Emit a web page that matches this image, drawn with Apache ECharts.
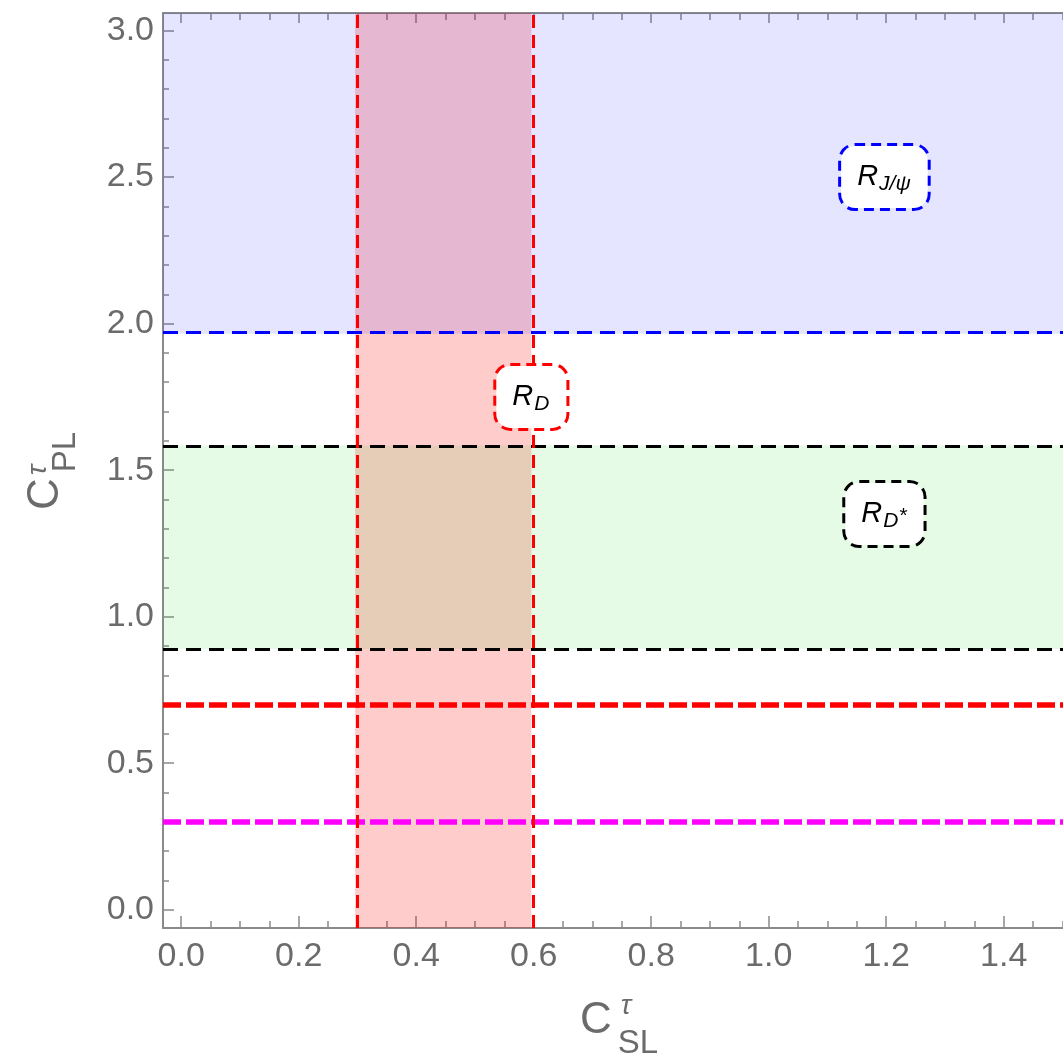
<!DOCTYPE html>
<html>
<head>
<meta charset="utf-8">
<script src="https://cdn.jsdelivr.net/npm/echarts@6/dist/echarts.min.js"></script>
<style>
  html, body { margin: 0; padding: 0; background: #ffffff; }
  #chart { width: 1063px; height: 1058px; }
</style>
</head>
<body>
<div id="chart"></div>
<script>
// Plot window in (C_SL, C_PL)
const xRange = [-0.031, 1.501];
const yRange = [-0.0625, 3.06];

// Tick positions and labels
const xMajorTicks = [0.0, 0.2, 0.4, 0.6, 0.8, 1.0, 1.2, 1.4];
const xMinorTicks = [0.05, 0.1, 0.15, 0.25, 0.3, 0.35, 0.45, 0.5, 0.55, 0.65, 0.7, 0.75,
                     0.85, 0.9, 0.95, 1.05, 1.1, 1.15, 1.25, 1.3, 1.35, 1.45, 1.5];
const yMajorTicks = [0.0, 0.5, 1.0, 1.5, 2.0, 2.5, 3.0];
const yMinorTicks = [0.1, 0.2, 0.3, 0.4, 0.6, 0.7, 0.8, 0.9, 1.1, 1.2, 1.3, 1.4,
                     1.6, 1.7, 1.8, 1.9, 2.1, 2.2, 2.3, 2.4, 2.6, 2.7, 2.8, 2.9];

// Allowed regions
const rdBand = [0.296, 0.596];        // R_D: band in C_SL
const rdStarBand = [0.89, 1.584];     // R_D*: band in C_PL
const rJpsiLower = 1.965;             // R_J/psi: C_PL above this value
const redLineLevel = 0.70;            // thick red dashed bound
const magentaLineLevel = 0.30;        // thick magenta dashed bound

// Region tags
const tagNames = ['R_J/psi', 'R_D', 'R_D*'];
const tagX = [1.197, 0.596, 1.197];
const tagY = [2.50, 1.75, 1.35];
const tagText = ['{r|R}{s|J/ψ}', '{r|R}{s|D}', '{r|R}{s|D}{st|*}'];
const tagColor = ['#0000ff', '#ff0000', '#000000'];

const FONT = 'Liberation Sans, Arial, Helvetica, sans-serif';
const AXIS_GRAY = '#8a8a8a';
const LABEL_GRAY = '#6b6b6b';

function tickAxis(position, values, len, withLine, withLabels) {
  const vertical = position === 'left' || position === 'right';
  return {
    type: 'value',
    position: position,
    min: vertical ? yRange[0] : xRange[0],
    max: vertical ? yRange[1] : xRange[1],
    axisLine: { show: withLine, onZero: false, lineStyle: { color: AXIS_GRAY, width: 2 } },
    axisTick: { show: true, inside: true, length: len, customValues: values,
                lineStyle: { color: AXIS_GRAY, width: 1.5 } },
    axisLabel: withLabels ? {
      show: true, customValues: values, fontSize: 34, fontFamily: FONT, color: LABEL_GRAY,
      margin: vertical ? 9 : 12,
      formatter: v => Number(v).toFixed(1)
    } : { show: false },
    splitLine: { show: false },
    minorTick: { show: false },
    silent: true
  };
}

const chart = echarts.init(document.getElementById('chart'), null, { renderer: 'canvas' });

const option = {
  animation: false,
  backgroundColor: '#ffffff',
  grid: { left: 163, top: 13, right: 0, bottom: 130, outerBoundsMode: 'none', containLabel: false },
  xAxis: [
    tickAxis('bottom', xMajorTicks, 12, true, true),
    tickAxis('bottom', xMinorTicks, 7, false, false),
    tickAxis('top', xMajorTicks, 10, true, false),
    tickAxis('top', xMinorTicks, 7, false, false)
  ],
  yAxis: [
    tickAxis('left', yMajorTicks, 11, true, true),
    tickAxis('left', yMinorTicks, 6, false, false)
  ],
  series: [
    {
      // R_D band (vertical)
      type: 'line', xAxisIndex: 0, yAxisIndex: 0, data: [], silent: true, z: 1,
      markArea: {
        silent: true,
        itemStyle: { color: 'rgba(255,0,0,0.2)' },
        data: [[{ xAxis: rdBand[0], yAxis: yRange[0] }, { xAxis: rdBand[1], yAxis: yRange[1] }]]
      }
    },
    {
      // R_J/psi and R_D* bands (horizontal)
      type: 'line', xAxisIndex: 0, yAxisIndex: 0, data: [], silent: true, z: 2,
      markArea: {
        silent: true,
        data: [
          [{ xAxis: xRange[0], yAxis: rJpsiLower, itemStyle: { color: 'rgba(0,0,255,0.1)' } },
           { xAxis: xRange[1], yAxis: yRange[1] }],
          [{ xAxis: xRange[0], yAxis: rdStarBand[0], itemStyle: { color: 'rgba(0,220,0,0.1)' } },
           { xAxis: xRange[1], yAxis: rdStarBand[1] }]
        ]
      }
    },
    {
      // Boundary lines
      type: 'line', xAxisIndex: 0, yAxisIndex: 0, data: [], silent: true, z: 3,
      markLine: {
        silent: true, symbol: ['none', 'none'], label: { show: false },
        emphasis: { disabled: true },
        data: [
          { yAxis: rJpsiLower, lineStyle: { color: '#0000ff', width: 3, type: [15, 8] } },
          { yAxis: rdStarBand[1], lineStyle: { color: '#000000', width: 3, type: [15, 8] } },
          { yAxis: rdStarBand[0], lineStyle: { color: '#000000', width: 3, type: [15, 8] } },
          { yAxis: redLineLevel, lineStyle: { color: '#ff0000', width: 5.5, type: [18, 5] } },
          { yAxis: magentaLineLevel, lineStyle: { color: '#ff00ff', width: 5.5, type: [18, 5] } },
          { xAxis: rdBand[0], lineStyle: { color: '#ff0000', width: 3, type: [13, 7] } },
          { xAxis: rdBand[1], lineStyle: { color: '#ff0000', width: 3, type: [13, 7] } }
        ]
      }
    },
    {
      // Region tags
      type: 'scatter', xAxisIndex: 0, yAxisIndex: 0, silent: true, z: 10,
      symbolSize: 0,
      data: tagNames.map((n, i) => ({ name: n, value: [tagX[i], tagY[i]] })),
      itemStyle: { color: '#ffffff', opacity: 1 },
      label: {
        show: true,
        position: 'inside',
        opacity: 1,
        formatter: p => tagText[p.dataIndex],
        backgroundColor: '#ffffff',
        borderWidth: 3,
        borderType: [10, 6],
        borderRadius: 14,
        padding: [15, 17, 15, 16],
        rich: {
          r: { fontSize: 29, fontStyle: 'italic', fontFamily: FONT, color: '#000000', lineHeight: 32 },
          s: { fontSize: 21, fontStyle: 'italic', fontFamily: FONT, color: '#000000', lineHeight: 23, padding: [14, 0, 0, 1] },
          st: { fontSize: 21, fontStyle: 'italic', fontFamily: FONT, color: '#000000', lineHeight: 23, padding: [4, 0, 0, 0] }
        }
      }
    }
  ],
  graphic: [
    // x-axis title C^tau_SL
    { type: 'text', x: 596, y: 1021, silent: true,
      style: { text: 'C', font: '44px ' + FONT, fill: LABEL_GRAY, align: 'center', verticalAlign: 'middle' } },
    { type: 'text', x: 626, y: 1006, silent: true,
      style: { text: 'τ', font: 'italic 28px ' + FONT, fill: LABEL_GRAY, align: 'center', verticalAlign: 'middle' } },
    { type: 'text', x: 638, y: 1044, silent: true,
      style: { text: 'SL', font: '33px ' + FONT, fill: LABEL_GRAY, align: 'center', verticalAlign: 'middle' } },
    // y-axis title C^tau_PL
    { type: 'text', x: 46, y: 494, rotation: Math.PI / 2, silent: true,
      style: { text: 'C', font: '44px ' + FONT, fill: LABEL_GRAY, align: 'center', verticalAlign: 'middle' } },
    { type: 'text', x: 38, y: 470, rotation: Math.PI / 2, silent: true,
      style: { text: 'τ', font: 'italic 28px ' + FONT, fill: LABEL_GRAY, align: 'center', verticalAlign: 'middle' } },
    { type: 'text', x: 66, y: 452, rotation: Math.PI / 2, silent: true,
      style: { text: 'PL', font: '33px ' + FONT, fill: LABEL_GRAY, align: 'center', verticalAlign: 'middle' } }
  ]
};

// tag borders follow the colour of each region
option.series[3].data.forEach((d, i) => {
  d.label = { borderColor: tagColor[i] };
});

chart.setOption(option);
</script>
</body>
</html>
